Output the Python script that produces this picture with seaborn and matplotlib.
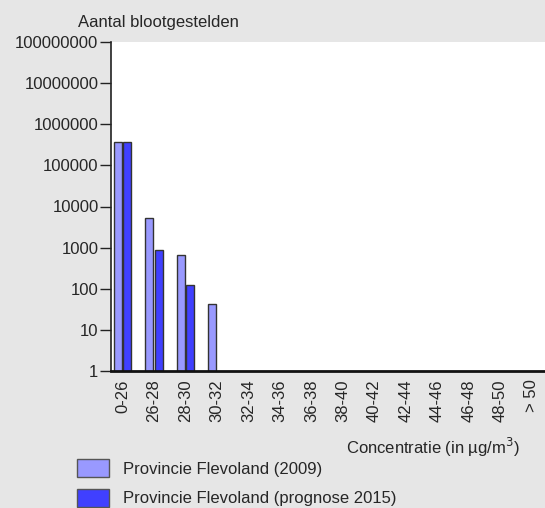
import numpy as np
import pandas as pd
import seaborn as sns
import matplotlib.pyplot as plt
from matplotlib.patches import Patch

categories = ['0-26', '26-28', '28-30', '30-32', '32-34', '34-36', '36-38',
              '38-40', '40-42', '42-44', '44-46', '46-48', '48-50', '> 50']
flevoland_2009 = [360000, 5300, 650, 43, 0, 0, 0, 0, 0, 0, 0, 0, 0, 0]
flevoland_2015 = [380000, 900, 120, 0, 0, 0, 0, 0, 0, 0, 0, 0, 0, 0]
series_names = ['Provincie Flevoland (2009)', 'Provincie Flevoland (prognose 2015)']
colors = ['#9999ff', '#4040ff']

df = pd.DataFrame({
    'cat': categories * 2,
    'val': flevoland_2009 + flevoland_2015,
    'series': [series_names[0]] * len(categories) + [series_names[1]] * len(categories),
})
# zero values can't sit on a log axis; leave them out
df['val'] = df['val'].replace(0, np.nan)

sns.set_style('white')
plt.rcParams['font.family'] = ['Liberation Sans', 'DejaVu Sans']
bg = '#e6e6e6'
fs = 12

fig = plt.figure(figsize=(5.45, 5.08), dpi=100, facecolor=bg)
ax = fig.add_axes([111 / 545, 1 - 371 / 508, 1 - 111 / 545, (371 - 42) / 508])

sns.barplot(data=df, x='cat', y='val', hue='series', order=categories,
            hue_order=series_names, palette=colors, saturation=1, width=0.6, gap=0.15,
            edgecolor='#333333', linewidth=1, legend=False, ax=ax)

ax.set_yscale('log')
ax.set_ylim(1, 1e8)
ax.set_xlim(-0.37, 13.42)
ax.set_yticks([10 ** i for i in range(9)])
ax.set_yticklabels([str(10 ** i) for i in range(9)], fontsize=fs)
ax.minorticks_off()
ax.tick_params(axis='y', direction='out', length=8, width=1, color='#222222', pad=1, left=True)
ax.tick_params(axis='x', length=0, pad=6)
plt.setp(ax.get_xticklabels(), rotation=90, fontsize=fs)
ax.set_xlabel('')
ax.set_ylabel('')

for s in ['top', 'right']:
    ax.spines[s].set_visible(False)
ax.spines['left'].set_color('#222222')
ax.spines['left'].set_linewidth(1.2)
ax.spines['bottom'].set_color('#111111')
ax.spines['bottom'].set_linewidth(2)

fig.text(158 / 545, 1 - 22 / 508, 'Aantal blootgestelden', ha='center', va='center', fontsize=fs)
fig.text(520 / 545, 1 - 447 / 508, 'Concentratie (in µg/m$^3$)', ha='right', va='center', fontsize=fs)

handles = [Patch(facecolor=c, edgecolor='#555555', linewidth=1) for c in colors]
fig.legend(handles, series_names, loc='upper left', bbox_to_anchor=(77 / 545, 1 - 459 / 508),
           frameon=False, fontsize=fs, handlelength=1.9, handleheight=1.3,
           handletextpad=0.85, labelspacing=0.7, borderpad=0, borderaxespad=0)

fig.savefig('out.png', dpi=100, facecolor=bg)
